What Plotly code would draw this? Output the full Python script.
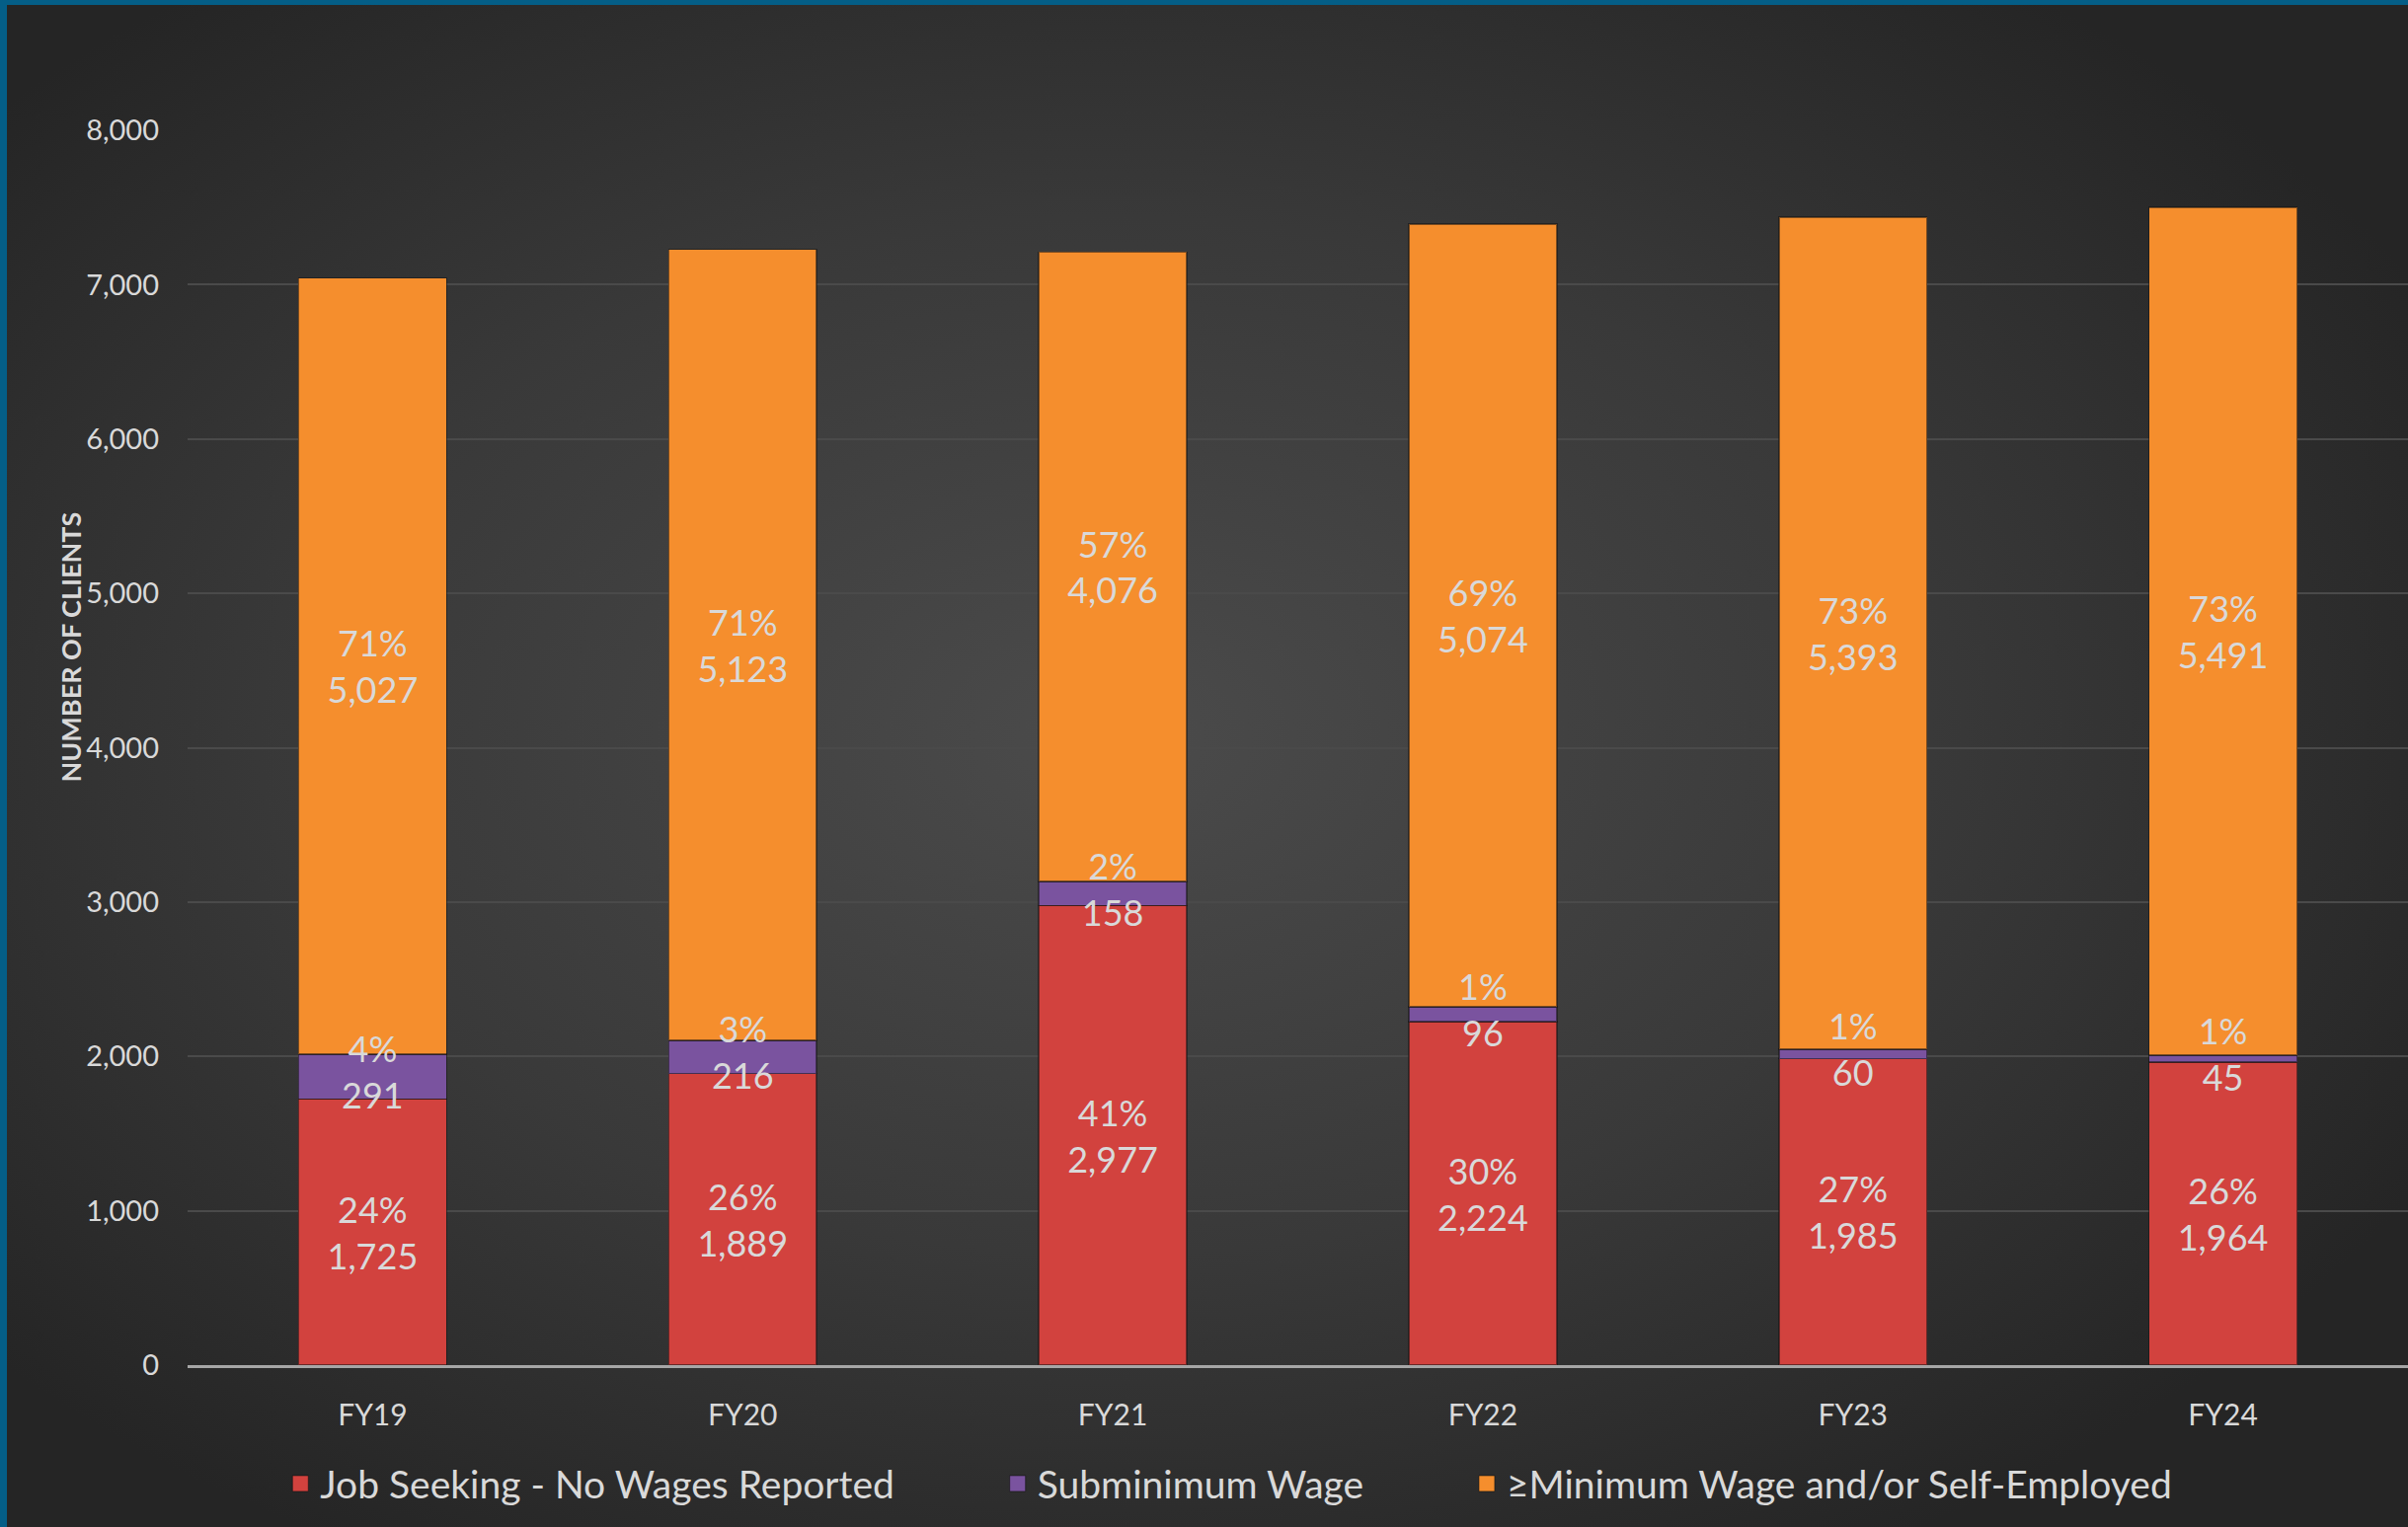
import base64
import plotly.graph_objects as go

years = ["FY19", "FY20", "FY21", "FY22", "FY23", "FY24"]
job_seeking = [1725, 1889, 2977, 2224, 1985, 1964]
subminimum = [291, 216, 158, 96, 60, 45]
min_wage = [5027, 5123, 4076, 5074, 5393, 5491]
job_seeking_pct = ["24%", "26%", "41%", "30%", "27%", "26%"]
subminimum_pct = ["4%", "3%", "2%", "1%", "1%", "1%"]
min_wage_pct = ["71%", "71%", "57%", "69%", "73%", "73%"]

FONT = "Lato"
TXT = "#D9D9D9"
RED, PURPLE, ORANGE = "#D2423E", "#7A539F", "#F58E2D"

# dark radial background, laid behind the plot area
svg = """<svg xmlns='http://www.w3.org/2000/svg' width='1000' height='640' preserveAspectRatio='none'>
<defs><radialGradient id='g' cx='0.46' cy='0.48' r='0.62'>
<stop offset='0' stop-color='#4b4b4b'/><stop offset='0.55' stop-color='#393939'/><stop offset='1' stop-color='#252525'/>
</radialGradient></defs><rect width='1000' height='640' fill='url(#g)'/></svg>"""
bg_src = "data:image/svg+xml;base64," + base64.b64encode(svg.encode()).decode()


def labels(pcts, vals):
    return [f"{p}<br>{v:,}" for p, v in zip(pcts, vals)]


fig = go.Figure()

series = [
    ("Job Seeking - No Wages Reported", job_seeking, job_seeking_pct, RED, True),
    ("Subminimum Wage", subminimum, subminimum_pct, PURPLE, False),
    ("≥Minimum Wage and/or Self-Employed", min_wage, min_wage_pct, ORANGE, True),
]
for name, vals, pcts, color, inside in series:
    fig.add_trace(go.Bar(
        x=years, y=vals, name=name, showlegend=False,
        marker=dict(color=color, line=dict(color="rgba(20,20,20,0.55)", width=1.5)),
        text=labels(pcts, vals) if inside else None,
        textposition="inside", insidetextanchor="middle",
        textangle=0, constraintext="none",
        textfont=dict(family=FONT, size=36, color=TXT),
        hoverinfo="skip",
    ))

# subminimum labels sit on top of everything, centred on the thin segment
fig.add_trace(go.Scatter(
    x=years, y=[j + s / 2 for j, s in zip(job_seeking, subminimum)],
    mode="text", text=labels(subminimum_pct, subminimum), textposition="middle center",
    textfont=dict(family=FONT, size=36, color=TXT), showlegend=False, hoverinfo="skip",
))

# legend entries with bigger swatches; trailing nbsp widens the gaps like the original
pad = "\u00a0" * 10
for i, (name, _, _, color, _) in enumerate(series):
    fig.add_trace(go.Scatter(
        x=[None], y=[None], mode="markers", name=name + (pad if i < 2 else ""),
        marker=dict(symbol="square", size=20, color=color,
                    line=dict(color="rgba(20,20,20,0.6)", width=1)),
    ))

fig.update_layout(
    width=2439, height=1547,
    barmode="stack", bargap=0.6,
    paper_bgcolor="#045E87", plot_bgcolor="rgba(0,0,0,0)",
    margin=dict(l=190, r=0, t=132, b=164),
    font=dict(family=FONT, color=TXT),
    showlegend=True,
    legend=dict(orientation="h", x=0.469, xanchor="center", y=-0.096, yanchor="middle",
                font=dict(family=FONT, size=39, color=TXT), itemsizing="trace",
                traceorder="normal", itemwidth=30, bgcolor="rgba(0,0,0,0)"),
    images=[dict(source=bg_src, xref="paper", yref="paper",
                 x=(7 - 190) / 2249, y=1 + (132 - 5) / 1251,
                 sizex=2432 / 2249, sizey=1542 / 1251,
                 xanchor="left", yanchor="top", sizing="stretch", layer="below")],
    annotations=[dict(text="<b>NUMBER OF CLIENTS</b>", textangle=-90,
                      xref="paper", yref="paper", x=(52 - 190) / 2249,
                      y=1 - (656 - 132) / 1251, showarrow=False,
                      font=dict(family=FONT, size=27, color=TXT))],
)
fig.update_yaxes(range=[0, 8000], dtick=1000, tickformat=",d",
                 showgrid=True, gridcolor="#4a4a4a", gridwidth=2,
                 zeroline=False, showline=False,
                 tickfont=dict(family=FONT, size=29, color=TXT), ticklabelstandoff=28)
fig.update_xaxes(showline=True, linecolor="#A6A6A6", linewidth=3, range=[-0.5, 5.5],
                 tickfont=dict(family=FONT, size=30, color=TXT), ticklabelstandoff=22)

fig.write_html("out.html", config={"displayModeBar": False},
               post_script="document.body.style.margin='0';")
